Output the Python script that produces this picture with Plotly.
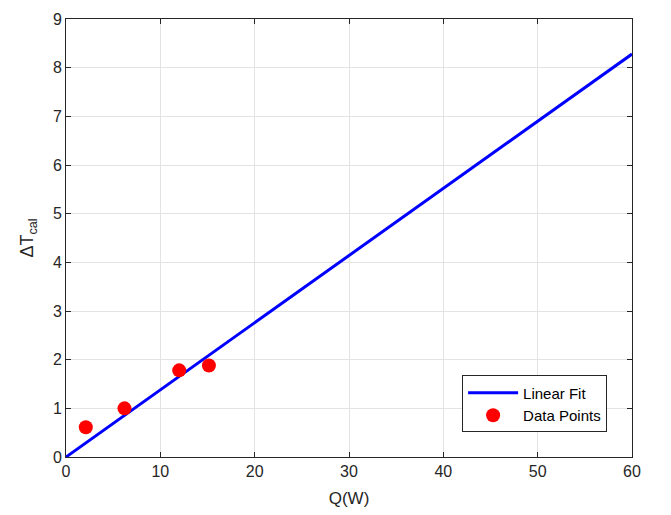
import plotly.graph_objects as go

# Data
q_points = [2.1, 6.2, 12.0, 15.15]
dt_points = [0.61, 1.0, 1.78, 1.88]
fit_x = [0, 60]
fit_slope = 0.138
fit_y = [fit_slope * x for x in fit_x]
x_ticks = [0, 10, 20, 30, 40, 50, 60]
y_ticks = list(range(0, 10))

font_family = "Liberation Sans, Arial, sans-serif"
axis_color = "#262626"

fig = go.Figure()
fig.add_trace(go.Scatter(x=fit_x, y=fit_y, mode="lines", name="Linear Fit",
                         line=dict(color="#0000ff", width=3)))
fig.add_trace(go.Scatter(x=q_points, y=dt_points, mode="markers", name="Data Points",
                         marker=dict(color="#ff0000", size=14, line=dict(width=0))))

axis_common = dict(
    showline=True, linecolor=axis_color, linewidth=1, mirror="ticks",
    ticks="inside", ticklen=5, tickcolor=axis_color, tickwidth=1,
    showgrid=True, gridcolor="#e3e3e3", gridwidth=1, zeroline=False,
    tickfont=dict(family=font_family, size=16, color=axis_color),
)

fig.update_layout(
    width=671, height=515,
    margin=dict(l=66, r=39, t=11, b=58),
    paper_bgcolor="white", plot_bgcolor="white",
    font=dict(family=font_family, color=axis_color),
    xaxis=dict(range=[0, 60], tickvals=x_ticks,
               title=dict(text="Q(W)", font=dict(size=17, color=axis_color), standoff=12),
               **axis_common),
    yaxis=dict(range=[0, 9], tickvals=y_ticks,
               title=dict(text="ΔT<sub>cal</sub>", font=dict(size=18, color=axis_color), standoff=14),
               **axis_common),
    legend=dict(x=0.956, y=0.056, xanchor="right", yanchor="bottom",
                bgcolor="white", bordercolor=axis_color, borderwidth=1,
                font=dict(family=font_family, size=15, color="#000000"),
                itemwidth=50, tracegroupgap=0),
    showlegend=True,
)

fig.write_html("out.html")
